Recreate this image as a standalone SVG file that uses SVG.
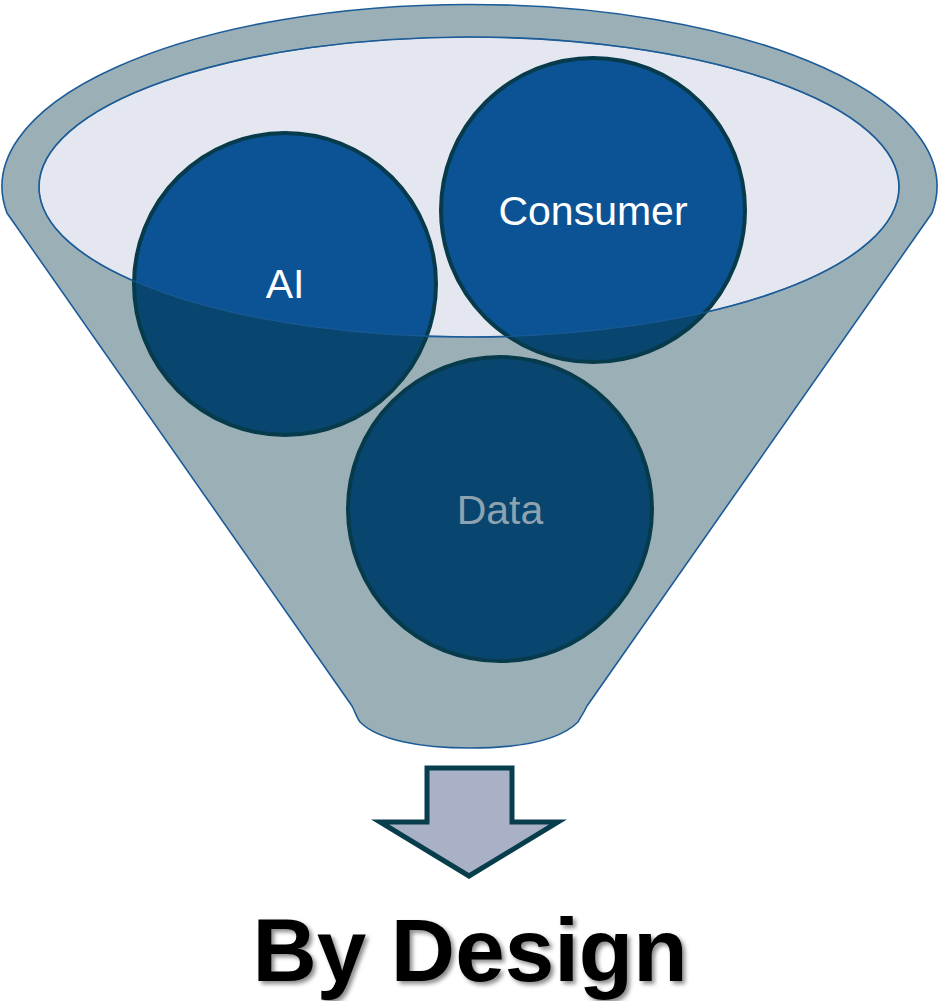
<svg xmlns="http://www.w3.org/2000/svg" width="941" height="1001" viewBox="0 0 941 1001">
<style>
.node-fill{fill:#0b5394;}
.node-dark{fill:#08466f;}
.node-ring{fill:none;stroke:#073b4c;stroke-width:4;}
.lbl{font-family:"Liberation Sans",Arial,sans-serif;font-size:41px;text-anchor:middle;}
.rim{stroke:#1d5c98;stroke-width:1.6;}
</style>
<defs>
<clipPath id="outside" clip-rule="evenodd">
<path clip-rule="evenodd" d="M0,0 H941 V1001 H0 Z M39,187 A430,150 0 1 0 899,187 A430,150 0 1 0 39,187 Z"/>
</clipPath>
<filter id="shadow" x="-10%" y="-20%" width="130%" height="150%">
<feDropShadow dx="3" dy="3" stdDeviation="2" flood-color="#000" flood-opacity="0.45"/>
</filter>
</defs>
<g id="funnel">
<path class="rim" fill="#9bb0b6" d="M7,213 A467.5,182 0 1 1 932,213 L587,706 C582,716 580,718 578,722 C560,740 520,748 470,748 C420,748 378,740 360,722 C357,718 356,714 352,706 Z"/>
<ellipse class="rim" cx="469" cy="187" rx="430" ry="150" fill="#e4e7ef"/>
</g>
<g id="node-ai">
<circle class="node-fill" cx="285" cy="284" r="151"/>
<circle class="node-dark" cx="285" cy="284" r="151" clip-path="url(#outside)"/>
<circle class="node-ring" cx="285" cy="284" r="151"/>
<text class="lbl" x="285" y="298" fill="#ffffff">AI</text>
</g>
<g id="node-consumer">
<circle class="node-fill" cx="593" cy="210" r="152"/>
<circle class="node-dark" cx="593" cy="210" r="152" clip-path="url(#outside)"/>
<circle class="node-ring" cx="593" cy="210" r="152"/>
<text class="lbl" x="593" y="225" fill="#ffffff">Consumer</text>
</g>
<g id="node-data">
<circle class="node-fill" cx="500" cy="509" r="152"/>
<circle class="node-dark" cx="500" cy="509" r="152" clip-path="url(#outside)"/>
<circle class="node-ring" cx="500" cy="509" r="152"/>
<text class="lbl" x="500" y="524" fill="#8ea2b0">Data</text>
</g>
<g id="connectors">
<ellipse cx="469" cy="187" rx="430" ry="150" fill="none" stroke="#1d5c98" stroke-width="1.2" stroke-opacity="0.8"/>
<path d="M427,768 H512 V822 H558 L469,876 L380,822 H427 Z" fill="#a9b1c6" stroke="#083d4c" stroke-width="5" stroke-linejoin="miter"/>
</g>
<g id="title">
<text x="470" y="981" font-family="'Liberation Sans',Arial,sans-serif" font-weight="bold" font-size="89" text-anchor="middle" fill="#000" filter="url(#shadow)">By Design</text>
</g>
</svg>
